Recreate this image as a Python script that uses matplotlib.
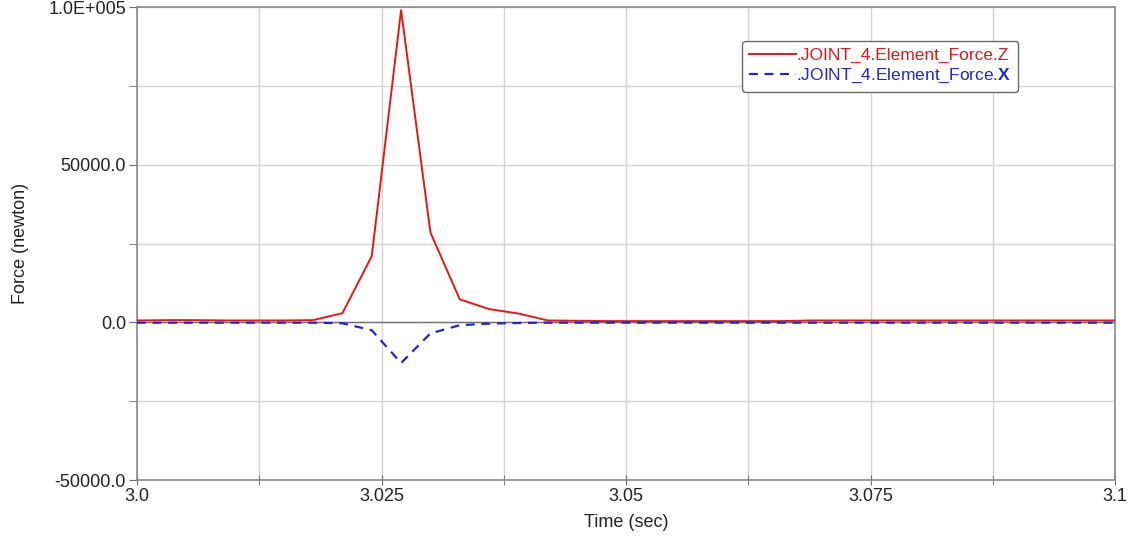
import matplotlib
matplotlib.use("Agg")
import matplotlib.pyplot as plt
from matplotlib.ticker import FixedLocator, MultipleLocator

plt.rcParams["font.family"] = ["Liberation Sans", "DejaVu Sans"]
plt.rcParams["mathtext.fontset"] = "custom"
plt.rcParams["mathtext.bf"] = "Liberation Sans:bold"

# Joint force samples (time in s, force in N)
time = [3.000, 3.003, 3.006, 3.009, 3.012, 3.015, 3.018, 3.021, 3.024, 3.027,
        3.030, 3.033, 3.036, 3.039, 3.042, 3.045, 3.048, 3.051, 3.054, 3.057,
        3.060, 3.063, 3.066, 3.069, 3.072, 3.075, 3.078, 3.081, 3.084, 3.087,
        3.090, 3.093, 3.096, 3.099, 3.100]
force_z = [600, 700, 700, 600, 600, 600, 700, 2900, 21000, 99000,
           28500, 7300, 4200, 2800, 600, 500, 400, 400, 400, 400,
           400, 400, 400, 600, 600, 600, 600, 600, 600, 600,
           600, 600, 600, 600, 600]
force_x = [-100, -100, -100, -100, -100, -100, -100, -300, -2500, -12900,
           -3500, -900, -400, -200, -100, -100, -100, -100, -100, -100,
           -100, -100, -100, -100, -100, -100, -100, -100, -100, -100,
           -100, -100, -100, -100, -100]

x_ticks = [3.0, 3.025, 3.05, 3.075, 3.1]
x_labels = ["3.0", "3.025", "3.05", "3.075", "3.1"]
y_ticks = [-50000, 0, 50000, 100000]
y_labels = ["-50000.0", "0.0", "50000.0", "1.0E+005"]

fig = plt.figure(figsize=(11.43, 5.44), dpi=100)
ax = fig.add_axes([0.1199, 0.1176, 0.8556, 0.8695])

ax.plot(time, force_z, color="#e8161b", lw=1.4, zorder=3,
        label=".JOINT_4.Element_Force.Z")
ax.plot(time, force_x, color="#2424d4", lw=1.6, ls=(0, (4, 3)), zorder=3,
        label=r".JOINT_4.Element_Force.$\mathbf{X}$")
ax.axhline(0, color="#707070", lw=1.0, zorder=2)

ax.set_xlim(3.0, 3.1)
ax.set_ylim(-50000, 100000)

ax.xaxis.set_major_locator(FixedLocator(x_ticks))
ax.set_xticklabels(x_labels)
ax.xaxis.set_minor_locator(MultipleLocator(0.0125))
ax.yaxis.set_major_locator(FixedLocator(y_ticks))
ax.set_yticklabels(y_labels)
ax.yaxis.set_minor_locator(MultipleLocator(25000))

ax.grid(True, which="both", color="#d4d4d4", lw=1.0, zorder=0)
ax.set_axisbelow(True)

for side in ["left", "bottom", "right", "top"]:
    ax.spines[side].set_color("#8a8a8a")
    ax.spines[side].set_linewidth(1.2)

ax.tick_params(axis="x", which="both", direction="inout", length=7,
               color="#6a6a6a", labelsize=13, labelcolor="#222222", pad=2)
ax.tick_params(axis="y", which="both", direction="out", length=6,
               color="#6a6a6a", labelsize=13, labelcolor="#222222", pad=2)

ax.set_xlabel("Time (sec)", fontsize=13, color="#222222", labelpad=7)
ax.set_ylabel("Force (newton)", fontsize=13, color="#222222", labelpad=14)

leg = ax.legend(loc="upper left", bbox_to_anchor=(0.610, 0.947), fontsize=12.5,
                handlelength=2.7, handletextpad=0.0, borderpad=0.4,
                labelspacing=0.2, fancybox=True, framealpha=1.0,
                edgecolor="#6a6a6a", labelcolor="linecolor")
leg.get_frame().set_linewidth(1.0)

fig.savefig("out.png", dpi=100)
